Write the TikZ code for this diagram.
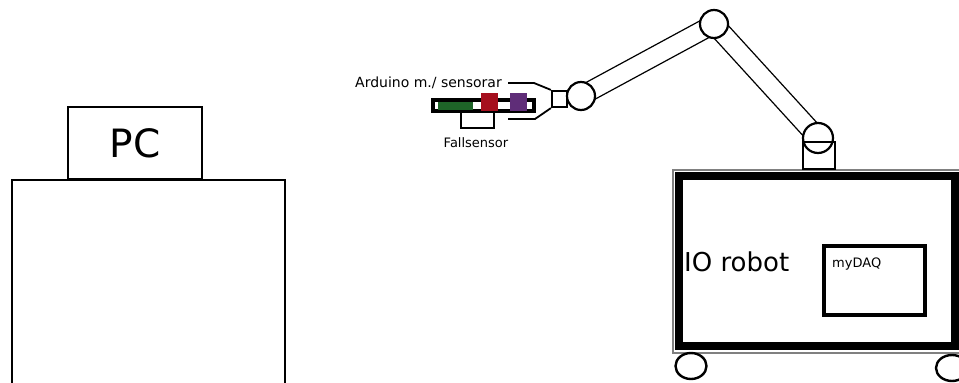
\documentclass[tikz,border=0pt]{standalone}
\usepackage{fontspec}
\setmainfont{DejaVu Sans}
\usetikzlibrary{calc}
\definecolor{boardgreen}{RGB}{30,100,40}
\definecolor{chipred}{RGB}{165,15,30}
\definecolor{chippurple}{RGB}{95,45,120}
\begin{document}
\begin{tikzpicture}[x=1pt,y=-1pt,
  outline/.style={draw=black,line width=2.5pt},
  joint/.style={circle,draw=black,line width=2.2pt,fill=white,minimum size=28pt,inner sep=0pt},
  armlink/.style={draw=black,line width=1.2pt},
  jaw/.style={draw=black,line width=1.8pt},
  smalltext/.style={font=\fontsize{13}{15}\selectfont,inner sep=0pt}]
\useasboundingbox (0,0) rectangle (959,383);
\clip (0,0) rectangle (959,383);

% desk and PC
\coordinate (deskbl) at (12,400);
\coordinate (deskbr) at (285,400);
\draw[outline,line join=miter] (deskbl) -- (12,180) -- (285,180) -- (deskbr);
\node[outline,minimum width=134pt,minimum height=72pt,inner sep=0pt,
      font=\fontsize{39}{41}\selectfont] (pc) at (135,143) {PC};

% robot body
\draw[gray,line width=1.3pt] (673,170) rectangle (962,353);
\draw[black,line width=8pt] (679,176) rectangle (955,346);
\node[anchor=base west,inner sep=0pt,font=\fontsize{26}{29}\selectfont] (io) at (684,271) {IO robot};
\node[draw=black,line width=4.5pt,minimum width=101pt,minimum height=69pt,inner sep=0pt] (daq) at (874.5,280.5) {};
\node[smalltext,anchor=base west] (daqlabel) at (832,267) {myDAQ};

% wheels
\draw[line width=2.4pt] (691,366) ellipse [x radius=15.5pt,y radius=13pt];
\draw[line width=2.4pt] (952,368) ellipse [x radius=16pt,y radius=13pt];

% robot arm
\coordinate (jl) at (581,96);
\coordinate (jt) at (714,24);
\coordinate (jb) at (818,138);
\draw[armlink] ($(jl)!9.5pt!90:(jt)$) -- ($(jt)!9.5pt!-90:(jl)$);
\draw[armlink] ($(jl)!9.5pt!-90:(jt)$) -- ($(jt)!9.5pt!90:(jl)$);
\draw[armlink] ($(jt)!9.5pt!90:(jb)$) -- ($(jb)!9.5pt!-90:(jt)$);
\draw[armlink] ($(jt)!9.5pt!-90:(jb)$) -- ($(jb)!9.5pt!90:(jt)$);
\node[joint] (left) at (jl) {};
\node[joint] (top) at (jt) {};
\node[circle,fill=white,minimum size=30pt,inner sep=0pt] (basefill) at (jb) {};
\node[draw=black,line width=2.2pt,minimum width=32pt,minimum height=27pt,inner sep=0pt,anchor=south] (base) at (819,170) {};
\node[joint,fill=none,minimum size=30pt] (basejoint) at (jb) {};

% gripper
\node[draw=black,line width=2.2pt,minimum width=15pt,minimum height=16pt,inner sep=0pt] (wrist) at (559.5,99) {};
\coordinate (upjaw) at (508,83);
\coordinate (lowjaw) at (508,119);
\draw[jaw] (upjaw) -- (534,83) -- (wrist.north west);
\draw[jaw] (lowjaw) -- (535,119) -- (wrist.south west);

% Arduino board with sensors
\draw[black,line width=4pt,fill=white] (433,100) rectangle (534,111);
\fill[boardgreen] (438,102) rectangle (473,110);
\fill[chipred] (481,93) rectangle (498,111);
\fill[chippurple] (510,93) rectangle (527,111);
\draw[line width=2pt] (461,113) -- (461,128) -- (494,128) -- (494,113);

\node[smalltext,anchor=base east,font=\fontsize{14}{16}\selectfont] (arduino) at (502,87) {Arduino m./ sensorar};
\node[smalltext,anchor=base] (fall) at (476,147) {Fallsensor};
\end{tikzpicture}
\end{document}
